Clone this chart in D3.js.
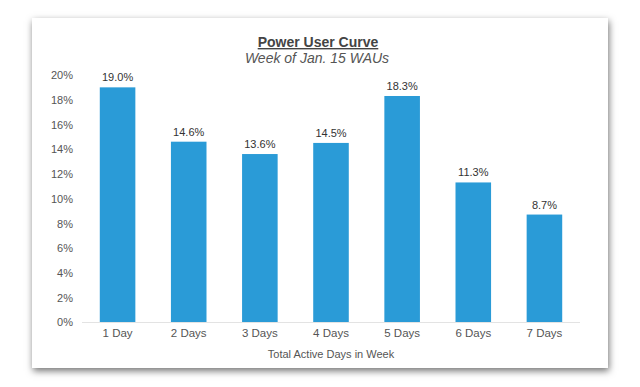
<!DOCTYPE html>
<html><head><meta charset="utf-8">
<script src="https://cdn.jsdelivr.net/npm/d3@7"></script>
<style>
html,body{margin:0;padding:0;background:#fff;}
#card{position:absolute;left:32px;top:18px;width:576px;height:350px;background:#fff;
box-shadow:1px 3px 7px rgba(0,0,0,0.55);}
svg{position:absolute;left:0;top:0;}
text{font-family:"Liberation Sans",Arial,sans-serif;}
</style></head>
<body>
<div id="card"></div>
<script>
const categories=["1 Day","2 Days","3 Days","4 Days","5 Days","6 Days","7 Days"];
const values=[19.0,14.6,13.6,14.5,18.3,11.3,8.7];
const yTicks=[0,2,4,6,8,10,12,14,16,18,20];
const title="Power User Curve";
const subtitle="Week of Jan. 15 WAUs";
const xTitle="Total Active Days in Week";

const W=640,H=387;
const svg=d3.select("body").append("svg").attr("width",W).attr("height",H);
const x=d3.scaleBand().domain(categories).range([82,580]).paddingInner(0.5).paddingOuter(0.25);
const y=d3.scaleLinear().domain([0,20]).range([322,75]);

svg.append("line").attr("x1",82).attr("x2",580).attr("y1",y(0)+0.5).attr("y2",y(0)+0.5)
  .attr("stroke","#e3e3e3").attr("stroke-width",1);

const yAxis=d3.axisLeft(y).tickValues(yTicks).tickFormat(d=>d+"%").tickSize(0).tickPadding(0);
const ga=svg.append("g").attr("transform","translate(73,0)").call(yAxis);
ga.select(".domain").remove();
ga.selectAll("text").attr("fill","#555").style("font-size","11px").attr("dy","0.35em");

svg.selectAll("rect.bar").data(values).join("rect").attr("class","bar")
  .attr("x",(d,i)=>x(categories[i])).attr("width",x.bandwidth())
  .attr("y",d=>y(d)).attr("height",d=>y(0)-y(d)).attr("fill","#2a9bd7");

svg.selectAll("text.val").data(values).join("text").attr("class","val")
  .attr("x",(d,i)=>x(categories[i])+x.bandwidth()/2).attr("y",d=>y(d)-6)
  .attr("text-anchor","middle").attr("fill","#333").style("font-size","11px")
  .text(d=>d.toFixed(1)+"%");

const xAxis=d3.axisBottom(x).tickSize(0).tickPadding(0);
const gx=svg.append("g").attr("transform","translate(0,"+y(0)+")").call(xAxis);
gx.select(".domain").remove();
gx.selectAll("text").attr("fill","#555").style("font-size","11.5px").attr("dy","15px");

svg.append("text").attr("x",331).attr("y",358).attr("text-anchor","middle")
  .attr("fill","#555").style("font-size","11px").text(xTitle);

svg.append("text").attr("x",318).attr("y",47).attr("text-anchor","middle")
  .attr("fill","#444").style("font-size","14px").style("font-weight","bold")
  .style("text-decoration","underline").text(title);
svg.append("text").attr("x",317).attr("y",63).attr("text-anchor","middle")
  .attr("fill","#555").style("font-size","14px").style("font-style","italic").text(subtitle);
</script>
</body></html>
